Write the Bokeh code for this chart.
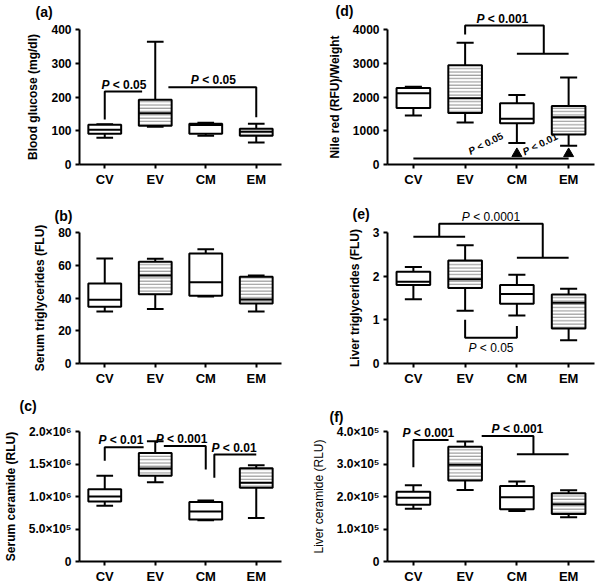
import math
from bokeh.plotting import figure
from bokeh.models import Range1d, FixedTicker, ColumnDataSource
from bokeh.core.properties import value
from bokeh.layouts import gridplot
from bokeh.embed import file_html
from bokeh.resources import INLINE

FONT = "Liberation Sans"

categories = ["CV", "EV", "CM", "EM"]
hatched = [False, True, False, True]

# (a) Blood glucose (mg/dl)
glucose_min = [79, 112, 85, 65]
glucose_q1 = [91, 115, 91, 85]
glucose_med = [103, 152, 117, 97]
glucose_q3 = [118, 192, 121, 106]
glucose_max = [119, 364, 124, 121]
glucose_ticks = [0, 100, 200, 300, 400]

# (b) Serum triglycerides (FLU)
serum_tg_min = [31.7, 33.3, 40.9, 31.7]
serum_tg_q1 = [34.7, 42.3, 41.3, 36.7]
serum_tg_med = [38.9, 53.8, 49.6, 39.1]
serum_tg_q3 = [48.8, 62.1, 67.1, 53.0]
serum_tg_max = [64.1, 63.9, 69.8, 53.8]
serum_tg_ticks = [0, 20, 40, 60, 80]

# (c) Serum ceramide (RLU)
serum_cer_min = [0.856e6, 1.22e6, 0.633e6, 0.67e6]
serum_cer_q1 = [0.925e6, 1.32e6, 0.647e6, 1.134e6]
serum_cer_med = [1.00e6, 1.43e6, 0.77e6, 1.21e6]
serum_cer_q3 = [1.11e6, 1.67e6, 0.915e6, 1.435e6]
serum_cer_max = [1.32e6, 1.85e6, 0.94e6, 1.48e6]
serum_cer_ticks = [0, 500000, 1000000, 1500000, 2000000]
serum_cer_tick_labels = ["0", "5.0×10⁵", "1.0×10⁶", "1.5×10⁶", "2.0×10⁶"]

# (d) Nile red (RFU)/Weight
nile_min = [1451, 1245, 637, 559]
nile_q1 = [1676, 1529, 1225, 892]
nile_med = [2108, 1961, 1353, 1402]
nile_q3 = [2265, 2941, 1814, 1735]
nile_max = [2304, 3608, 2059, 2578]
nile_ticks = [0, 1000, 2000, 3000, 4000]

# (e) Liver triglycerides (FLU)
liver_tg_min = [1.47, 1.21, 1.10, 0.53]
liver_tg_q1 = [1.80, 1.73, 1.37, 0.80]
liver_tg_med = [1.87, 1.93, 1.59, 1.39]
liver_tg_q3 = [2.10, 2.36, 1.80, 1.58]
liver_tg_max = [2.21, 2.71, 2.03, 1.71]
liver_tg_ticks = [0, 1, 2, 3]

# (f) Liver ceramide (RLU)
liver_cer_min = [1.62e5, 2.20e5, 1.555e5, 1.36e5]
liver_cer_q1 = [1.75e5, 2.49e5, 1.61e5, 1.46e5]
liver_cer_med = [1.96e5, 2.98e5, 1.98e5, 1.76e5]
liver_cer_q3 = [2.15e5, 3.53e5, 2.32e5, 2.10e5]
liver_cer_max = [2.35e5, 3.69e5, 2.46e5, 2.19e5]
liver_cer_ticks = [0, 100000, 200000, 300000, 400000]
liver_cer_tick_labels = ["0", "1.0×10⁵", "2.0×10⁵", "3.0×10⁵", "4.0×10⁵"]

# significance brackets (polylines in category / value units) and their p-value texts
glucose_brackets = [([1, 1, 1.74], [133, 216, 216]), ([2.26, 4, 4], [229, 229, 140])]
glucose_pvals = [(1.38, 216, "< 0.05"), (3.15, 229, "< 0.05")]

nile_brackets = [([2, 2, 3.52, 3.52], [3853, 4118, 4118, 3284]), ([3, 4], [3284, 3284]),
                 ([1, 4], [176, 176])]
nile_pvals = [(2.72, 4118, "< 0.001")]
nile_markers_x = [3, 4]
nile_markers_y = [320, 320]
nile_rot_pvals = [(2.12, 230, "< 0.05"), (3.17, 215, "< 0.01")]

liver_tg_brackets = [([1, 2], [2.90, 2.90]), ([1.5, 1.5, 3.5, 3.5], [2.90, 3.20, 3.20, 2.42]),
                     ([3, 4], [2.42, 2.42]), ([2, 2, 3, 3], [1.00, 0.59, 0.59, 0.86])]
liver_tg_pvals_above = [(2.5, 3.20, "< 0.0001")]
liver_tg_pvals_below = [(2.5, 0.59, "< 0.05")]

serum_cer_brackets = [([1, 1, 1.77], [1.55e6, 1.757e6, 1.757e6]),
                      ([2.17, 3, 3], [1.776e6, 1.776e6, 1.416e6]),
                      ([3.17, 3.17, 4.0], [1.29e6, 1.645e6, 1.645e6])]
serum_cer_pvals = [(1.32, 1.757e6, "< 0.01"), (2.52, 1.776e6, "< 0.001"), (3.56, 1.645e6, "< 0.01")]

liver_cer_brackets = [([1, 1, 1.68], [2.90e5, 3.74e5, 3.74e5]),
                      ([2.32, 3.32, 3.32], [3.86e5, 3.86e5, 3.30e5]),
                      ([3, 4], [3.30e5, 3.30e5])]
liver_cer_pvals = [(1.29, 3.74e5, "< 0.001"), (3.01, 3.86e5, "< 0.001")]

CW = {' ': 0.278, '<': 0.584, '.': 0.278, 'P': 0.667}


def text_width(s, size):
    return sum(CW.get(c, 0.556) for c in s) * size


def txt(p, x, y, t, size, style, baseline="bottom", dx=0.0, dy=0.0, angle=0.0):
    # text glyph at overlay level so it is not clipped to the plot frame
    p.text(x=[x], y=[y], text=[t], x_offset=dx, y_offset=dy, angle=angle,
           text_font=value(FONT), text_font_size=f"{size}px", text_font_style=style,
           text_baseline=baseline, text_align="left", text_color="black", level="overlay")


def make_panel(letter, ylabel, mins, q1s, meds, q3s, maxs, ticks, tick_labels,
               width, height, left, right, top, bottom, label_dx, label_top,
               ylabel_bold=True):
    p = figure(width=width, height=height, output_backend="svg", toolbar_location=None,
               x_range=Range1d(0.5, 4.5), y_range=Range1d(0, ticks[-1]),
               min_border_left=left, min_border_right=right,
               min_border_top=top, min_border_bottom=bottom)
    p.outline_line_color = None
    p.xgrid.visible = False
    p.ygrid.visible = False
    p.background_fill_color = "white"
    p.border_fill_color = "white"

    xs = [i + 1 for i in range(len(categories))]
    hw, cw = 0.325, 0.165
    src = ColumnDataSource(dict(
        x=xs, left=[x - hw for x in xs], right=[x + hw for x in xs],
        cl=[x - cw for x in xs], cr=[x + cw for x in xs],
        mn=mins, q1=q1s, md=meds, q3=q3s, mx=maxs,
        hatch=["horizontal_line" if h else " " for h in hatched]))
    lc = "black"
    p.segment(x0="x", y0="q3", x1="x", y1="mx", source=src, line_color=lc, line_width=2)
    p.segment(x0="x", y0="q1", x1="x", y1="mn", source=src, line_color=lc, line_width=2)
    p.segment(x0="cl", y0="mx", x1="cr", y1="mx", source=src, line_color=lc, line_width=2)
    p.segment(x0="cl", y0="mn", x1="cr", y1="mn", source=src, line_color=lc, line_width=2)
    p.quad(left="left", right="right", bottom="q1", top="q3", source=src,
           fill_color="white", line_color=lc, line_width=2,
           hatch_pattern="hatch", hatch_color="#8a8a8a", hatch_weight=1, hatch_scale=3.3)
    p.segment(x0="left", y0="md", x1="right", y1="md", source=src, line_color=lc, line_width=2)

    p.xaxis.ticker = FixedTicker(ticks=xs)
    p.xaxis.major_label_overrides = {x: c for x, c in zip(xs, categories)}
    p.yaxis.ticker = FixedTicker(ticks=ticks)
    if tick_labels is not None:
        p.yaxis.major_label_overrides = {t: l for t, l in zip(ticks, tick_labels)}
    for ax in (p.xaxis, p.yaxis):
        ax.axis_line_width = 2
        ax.axis_line_color = "black"
        ax.major_tick_line_width = 2
        ax.major_tick_line_color = "black"
        ax.major_tick_in = 0
        ax.major_tick_out = 4
        ax.minor_tick_line_color = None
        ax.major_label_text_font = FONT
        ax.major_label_text_font_style = "bold"
        ax.major_label_text_color = "black"
    p.xaxis.major_label_text_font_size = "13px"
    p.xaxis.major_label_standoff = 3
    p.yaxis.major_label_text_font_size = "12px"
    p.yaxis.major_label_standoff = 4
    p.yaxis.axis_label = ylabel
    p.yaxis.axis_label_text_font = FONT
    p.yaxis.axis_label_text_font_size = "12px"
    p.yaxis.axis_label_text_font_style = "bold" if ylabel_bold else "normal"
    p.yaxis.axis_label_text_color = "black"
    p.yaxis.axis_label_standoff = 8

    txt(p, 0.5, ticks[-1], letter, 14, "bold", baseline="top", dx=label_dx, dy=label_top - top)
    return p


def add_brackets(p, brackets):
    p.multi_line(xs=[b[0] for b in brackets], ys=[b[1] for b in brackets],
                 line_color="black", line_width=2, level="overlay")


def add_pval(p, x, y, rest, size=12, bold=True, below=False, angle=0.0):
    wp = text_width("P ", size)
    total = wp + text_width(rest, size)
    pstyle = "bold italic" if bold else "italic"
    rstyle = "bold" if bold else "normal"
    if angle == 0.0:
        baseline = "top" if below else "bottom"
        dy = 3 if below else 0
        x0 = -total / 2
        txt(p, x, y, "P", size, pstyle, baseline, dx=x0, dy=dy)
        txt(p, x, y, rest, size, rstyle, baseline, dx=x0 + wp, dy=dy)
    else:
        txt(p, x, y, "P", size, pstyle, "bottom", angle=angle)
        txt(p, x, y, rest, size, rstyle, "bottom", dx=wp * math.cos(angle),
            dy=-wp * math.sin(angle), angle=angle)


LW, RW = 298, 297

pa = make_panel("(a)", "Blood glucose (mg/dl)", glucose_min, glucose_q1, glucose_med,
                glucose_q3, glucose_max, glucose_ticks, None,
                LW, 196, 77, 17, 29, 31, -44, 3)
add_brackets(pa, glucose_brackets)
for x, y, t in glucose_pvals:
    add_pval(pa, x, y, t)

pd_ = make_panel("(d)", "Nile red (RFU)/Weight", nile_min, nile_q1, nile_med,
                 nile_q3, nile_max, nile_ticks, None,
                 RW, 196, 89, 1, 28, 32, -52, 1)
add_brackets(pd_, nile_brackets)
pd_.scatter(x=nile_markers_x, y=nile_markers_y, marker="triangle", size=10,
            fill_color="black", line_color="black")
for x, y, t in nile_pvals:
    add_pval(pd_, x, y, t)
for x, y, t in nile_rot_pvals:
    add_pval(pd_, x, y, t, size=10, angle=0.46)

pb = make_panel("(b)", "Serum triglycerides (FLU)", serum_tg_min, serum_tg_q1, serum_tg_med,
                serum_tg_q3, serum_tg_max, serum_tg_ticks, None,
                LW, 195, 77, 17, 32, 28, -25, 7)

pe = make_panel("(e)", "Liver triglycerides (FLU)", liver_tg_min, liver_tg_q1, liver_tg_med,
                liver_tg_q3, liver_tg_max, liver_tg_ticks, None,
                RW, 195, 86, 1, 36, 25, -35, 9)
add_brackets(pe, liver_tg_brackets)
for x, y, t in liver_tg_pvals_above:
    add_pval(pe, x, y, t, bold=False)
for x, y, t in liver_tg_pvals_below:
    add_pval(pe, x, y, t, bold=False, below=True)

pc = make_panel("(c)", "Serum ceramide (RLU)", serum_cer_min, serum_cer_q1, serum_cer_med,
                serum_cer_q3, serum_cer_max, serum_cer_ticks, serum_cer_tick_labels,
                LW, 195, 77, 17, 40, 21, -60, 6)
add_brackets(pc, serum_cer_brackets)
for x, y, t in serum_cer_pvals:
    add_pval(pc, x, y, t)

pf = make_panel("(f)", "Liver ceramide (RLU)", liver_cer_min, liver_cer_q1, liver_cer_med,
                liver_cer_q3, liver_cer_max, liver_cer_ticks, liver_cer_tick_labels,
                RW, 195, 89, 1, 38, 21, -58, 15, ylabel_bold=False)
add_brackets(pf, liver_cer_brackets)
for x, y, t in liver_cer_pvals:
    add_pval(pf, x, y, t)

grid = gridplot([[pa, pd_], [pb, pe], [pc, pf]], toolbar_location=None)

open("out.html", "w").write(file_html(grid, INLINE))
